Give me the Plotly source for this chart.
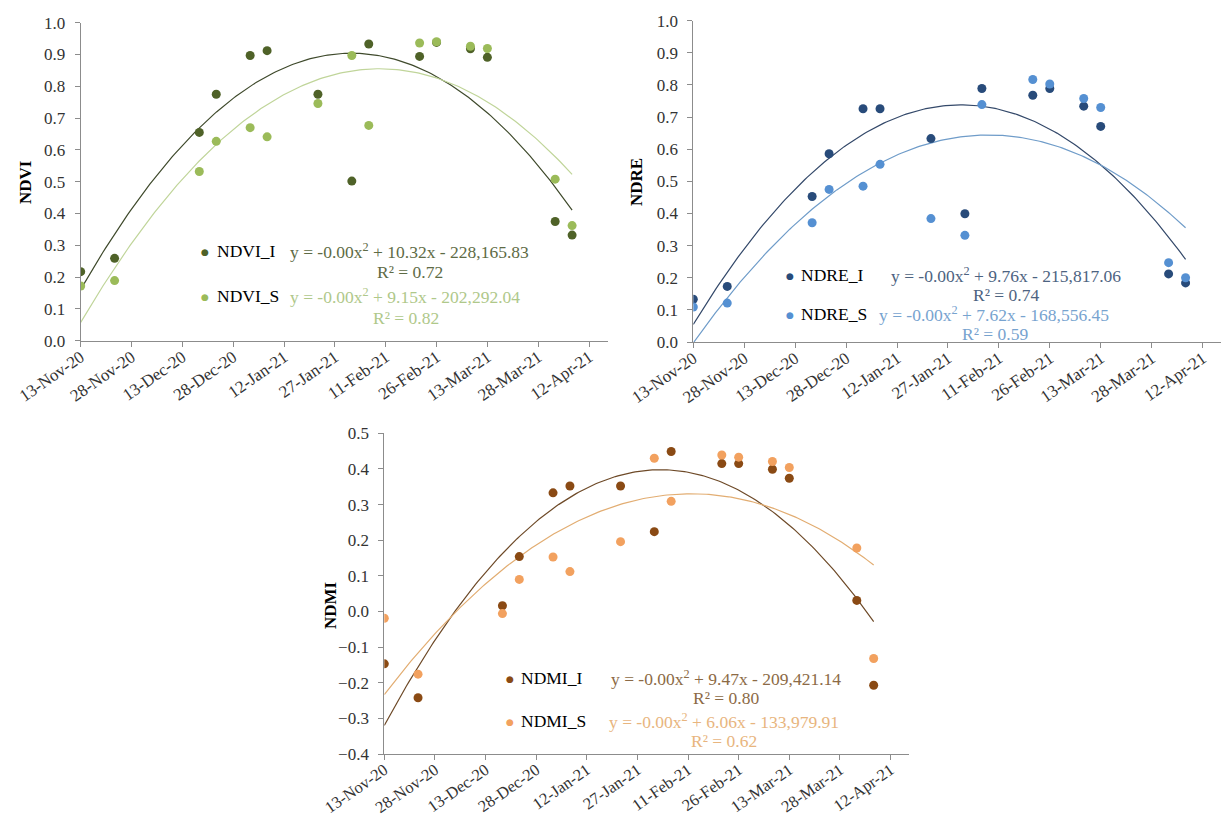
import numpy as np
import pandas as pd
import plotly.graph_objects as go

# ---------------- data ----------------
dates = ["2020-11-13", "2020-11-23", "2020-12-18", "2020-12-23", "2021-01-02",
         "2021-01-07", "2021-01-22", "2021-02-01", "2021-02-06", "2021-02-21",
         "2021-02-26", "2021-03-08", "2021-03-13", "2021-04-02", "2021-04-07"]

ndvi_i = [0.217, 0.259, 0.655, 0.775, 0.897, 0.912, 0.775, 0.502, 0.933, 0.894,
          0.938, 0.918, 0.891, 0.375, 0.332]
ndvi_s = [0.172, 0.189, 0.532, 0.627, 0.670, 0.641, 0.746, 0.897, 0.677, 0.936,
          0.940, 0.926, 0.919, 0.508, 0.362]

ndre_i = [0.133, 0.173, 0.453, 0.586, 0.726, 0.726, 0.633, 0.399, 0.789, 0.768,
          0.789, 0.734, 0.671, 0.212, 0.184]
ndre_s = [0.109, 0.121, 0.371, 0.475, 0.485, 0.553, 0.384, 0.332, 0.739, 0.817,
          0.803, 0.758, 0.730, 0.247, 0.200]

ndmi_i = [-0.147, -0.242, 0.016, 0.154, 0.333, 0.352, 0.352, 0.224, 0.449, 0.415,
          0.415, 0.399, 0.374, 0.031, -0.207]
ndmi_s = [-0.019, -0.176, -0.006, 0.090, 0.153, 0.112, 0.196, 0.430, 0.309, 0.439,
          0.433, 0.421, 0.404, 0.178, -0.132]

equations = {
    "NDVI_I": ("y = -0.00x<sup>2</sup> + 10.32x - 228,165.83", "R² = 0.72"),
    "NDVI_S": ("y = -0.00x<sup>2</sup> + 9.15x - 202,292.04", "R² = 0.82"),
    "NDRE_I": ("y = -0.00x<sup>2</sup> + 9.76x - 215,817.06", "R² = 0.74"),
    "NDRE_S": ("y = -0.00x<sup>2</sup> + 7.62x - 168,556.45", "R² = 0.59"),
    "NDMI_I": ("y = -0.00x<sup>2</sup> + 9.47x - 209,421.14", "R² = 0.80"),
    "NDMI_S": ("y = -0.00x<sup>2</sup> + 6.06x - 133,979.91", "R² = 0.62"),
}

# ---------------- layout helpers ----------------
W, H = 1223, 817
FONT = "Liberation Serif"
AXC = "#8c8c8c"
x_start = "2020-11-13"
x_end = "2021-04-17 12:00"
span_days = 155.5

def px(x):
    return x / W

def py(y):
    return 1 - y / H

panels = [
    dict(title="NDVI", left=80.7, pxday=3.389, top=22.7, bottom=340.7, yr=[0, 1.0],
         xfont=17,
         series=[("NDVI_I", ndvi_i, "#4F6228", "#3F4A2C", "#5E6B45"),
                 ("NDVI_S", ndvi_s, "#9BBB59", "#C0D59A", "#AFC88A")],
         title_xy=(25, 182),
         leg=dict(dot=205, name=215, eq=[(288, 251, 410, 272), (288, 296, 406, 318)])),
    dict(title="NDRE", left=693.3, pxday=3.395, top=20.7, bottom=342, yr=[0, 1.0],
         xfont=17,
         series=[("NDRE_I", ndre_i, "#284B7A", "#34496A", "#4D6381"),
                 ("NDRE_S", ndre_s, "#5590D2", "#6F9CC9", "#77A3CF")],
         title_xy=(636, 182),
         leg=dict(dot=789.5, name=798.5, eq=[(888.7, 275, 1006, 295), (877, 314, 994.6, 334)])),
    dict(title="NDMI", left=384.3, pxday=3.375, top=433.3, bottom=754, yr=[-0.4, 0.5],
         xfont=16.5,
         series=[("NDMI_I", ndmi_i, "#8A4A14", "#6E4A28", "#8C6A45"),
                 ("NDMI_S", ndmi_s, "#F2A15F", "#E2AD72", "#E8B57E")],
         title_xy=(330, 605),
         leg=dict(dot=510, name=519, eq=[(609, 678, 726, 698), (607, 721, 723.5, 741)])),
]

fig = go.Figure()
annotations = []
layout = {}

d0 = pd.Timestamp(dates[0])
day_off = np.array([(pd.Timestamp(d) - d0).days for d in dates], dtype=float)
grid = np.linspace(day_off.min(), day_off.max(), 200)
grid_dates = [d0 + pd.Timedelta(days=float(g)) for g in grid]

for k, p in enumerate(panels):
    xa = "x" if k == 0 else f"x{k+1}"
    ya = "y" if k == 0 else f"y{k+1}"
    xkey = "xaxis" if k == 0 else f"xaxis{k+1}"
    ykey = "yaxis" if k == 0 else f"yaxis{k+1}"
    right = p["left"] + p["pxday"] * span_days
    layout[xkey] = dict(
        domain=[px(p["left"]), px(right)], anchor=ya, type="date", automargin=False,
        range=[x_start, x_end], tick0=x_start, dtick=15 * 86400000,
        tickformat="%-d-%b-%y", tickangle=-35, ticks="outside", ticklen=5,
        tickcolor=AXC, showline=True, linecolor=AXC, linewidth=1,
        showgrid=False, zeroline=False, ticklabelstandoff=-6,
        tickfont=dict(family=FONT, size=p["xfont"], color="#333333"),
    )
    layout[ykey] = dict(
        domain=[py(p["bottom"]), py(p["top"])], anchor=xa, automargin=False,
        range=p["yr"], dtick=0.1, tick0=0, tickformat=".1f",
        ticks="outside", ticklen=5, tickcolor=AXC, showline=True,
        linecolor=AXC, linewidth=1, showgrid=False, zeroline=False,
        ticklabelstandoff=6,
        tickfont=dict(family=FONT, size=17, color="#333333"),
    )
    for (name, vals, mcol, tcol, ecol) in p["series"]:
        v = np.array(vals, dtype=float)
        coef = np.polyfit(day_off, v, 2)
        fit = np.polyval(coef, grid)
        fig.add_trace(go.Scatter(x=grid_dates, y=fit, mode="lines",
                                 line=dict(color=tcol, width=1.2),
                                 xaxis=xa, yaxis=ya, showlegend=False,
                                 hoverinfo="skip"))
    for (name, vals, mcol, tcol, ecol) in p["series"]:
        fig.add_trace(go.Scatter(x=dates, y=vals, mode="markers", name=name,
                                 marker=dict(color=mcol, size=9),
                                 xaxis=xa, yaxis=ya, showlegend=False))
    tx, ty = p["title_xy"]
    annotations.append(dict(x=px(tx), y=py(ty), xref="paper", yref="paper",
                            text=f"<b>{p['title']}</b>", textangle=-90,
                            showarrow=False, xanchor="center", yanchor="middle",
                            font=dict(family=FONT, size=17, color="black")))
    lg = p["leg"]
    for j, (name, vals, mcol, tcol, ecol) in enumerate(p["series"]):
        ex, ey, rx, ry = lg["eq"][j]
        annotations.append(dict(x=px(lg["dot"]), y=py(ey + 1), xref="paper", yref="paper",
                                text="●", showarrow=False, xanchor="center",
                                yanchor="middle",
                                font=dict(family="DejaVu Sans", size=9, color=mcol)))
        annotations.append(dict(x=px(lg["name"]), y=py(ey), xref="paper", yref="paper",
                                text=name, showarrow=False, xanchor="left",
                                yanchor="middle",
                                font=dict(family=FONT, size=17.5, color="black")))
        eq, r2 = equations[name]
        annotations.append(dict(x=px(ex), y=py(ey), xref="paper", yref="paper",
                                text=eq, showarrow=False, xanchor="left",
                                yanchor="middle",
                                font=dict(family=FONT, size=17.5, color=ecol)))
        annotations.append(dict(x=px(rx), y=py(ry), xref="paper", yref="paper",
                                text=r2, showarrow=False, xanchor="center",
                                yanchor="middle",
                                font=dict(family=FONT, size=17.5, color=ecol)))

fig.update_layout(
    width=W, height=H, margin=dict(l=0, r=0, t=0, b=0),
    paper_bgcolor="white", plot_bgcolor="white",
    annotations=annotations, showlegend=False, **layout,
)

fig.write_html("out.html")
